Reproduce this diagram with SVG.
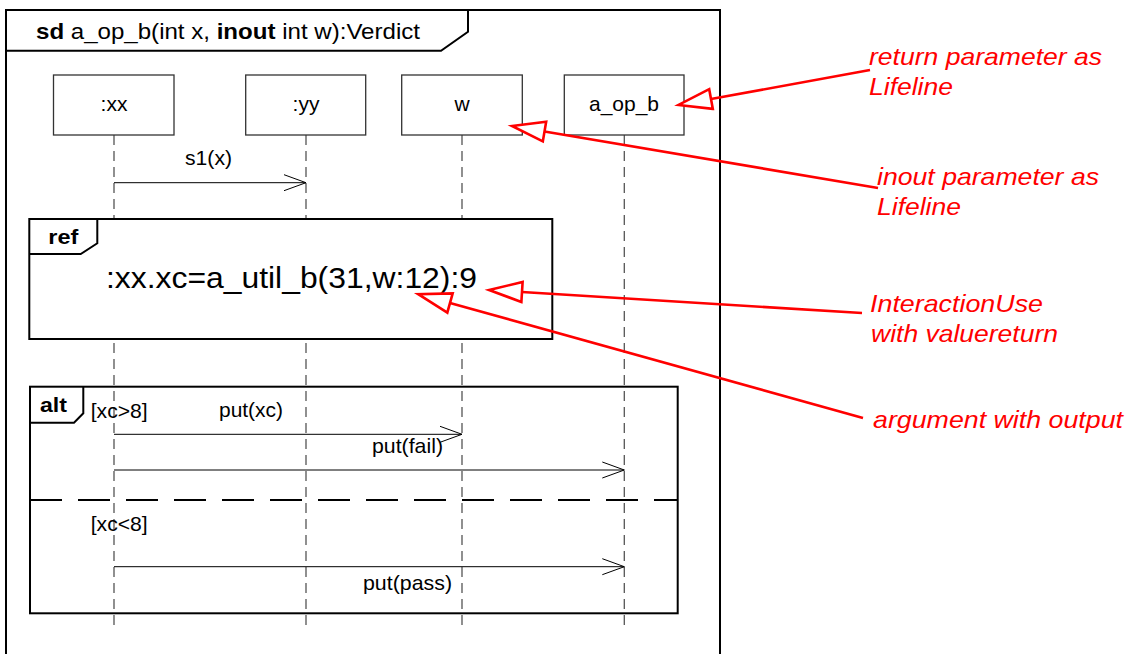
<svg xmlns="http://www.w3.org/2000/svg" width="1130" height="654" viewBox="0 0 1130 654">
<style>
text{font-family:"Liberation Sans",Arial,sans-serif;fill:#000}
.lbl{font-size:21px}
.b{font-weight:bold}
.frame{fill:none;stroke:#000;stroke-width:2}
.box{fill:#fff;stroke:#333;stroke-width:1.3}
.life{stroke:#555;stroke-width:1.3;stroke-dasharray:10 6}
.msg{stroke:#000;stroke-width:1;fill:none;marker-end:url(#open)}
.note{font-size:24px;font-style:italic;fill:#ff0000}
.red{stroke:#ff0000;stroke-width:2.6;fill:none;marker-end:url(#tri)}
</style>
<defs>
<marker id="open" markerUnits="userSpaceOnUse" markerWidth="26" markerHeight="20" refX="23" refY="9" orient="auto" overflow="visible">
<path d="M1,1 L23,9 L1,17" fill="none" stroke="#000" stroke-width="1"/>
</marker>
<marker id="tri" markerUnits="userSpaceOnUse" markerWidth="42" markerHeight="28" refX="3" refY="13" orient="auto" overflow="visible">
<path d="M3,3 L36,13 L3,23 Z" fill="#fff" stroke="#ff0000" stroke-width="2.6"/>
</marker>
</defs>
<rect width="1130" height="654" fill="#fff"/>

<g id="frame">
<rect class="frame" x="6" y="10" width="714" height="660"/>
<path class="frame" d="M6,50.7 L441,50.7 L468,31.7 L468,10"/>
<text x="36" y="39" font-size="22" textLength="384" lengthAdjust="spacingAndGlyphs"><tspan class="b">sd</tspan> a_op_b(int x, <tspan class="b">inout</tspan> int w):Verdict</text>
</g>

<g id="lifeline-xx">
<line class="life" x1="114" y1="135" x2="114" y2="626"/>
<rect class="box" x="53.5" y="75" width="120.5" height="60"/>
<text class="lbl" x="114" y="111" text-anchor="middle">:xx</text>
</g>
<g id="lifeline-yy">
<line class="life" x1="306" y1="135" x2="306" y2="626"/>
<rect class="box" x="245.7" y="75" width="120" height="60"/>
<text class="lbl" x="306" y="111" text-anchor="middle">:yy</text>
</g>
<g id="lifeline-w">
<line class="life" x1="462" y1="135" x2="462" y2="626"/>
<rect class="box" x="401.7" y="75" width="120.6" height="60"/>
<text class="lbl" x="462" y="111" text-anchor="middle">w</text>
</g>
<g id="lifeline-a_op_b">
<line class="life" x1="624.3" y1="135" x2="624.3" y2="626"/>
<rect class="box" x="564.3" y="75" width="119.7" height="60"/>
<text class="lbl" x="624" y="111" text-anchor="middle">a_op_b</text>
</g>

<g id="ref">
<rect x="29.3" y="219" width="523" height="120" fill="#fff" stroke="#000" stroke-width="2"/>
<path class="frame" d="M29.3,254 L80.7,254 L97.3,243.3 L97.3,219"/>
<text class="lbl b" x="48.3" y="244" textLength="30" lengthAdjust="spacingAndGlyphs">ref</text>
<text x="106" y="288" font-size="30" textLength="371" lengthAdjust="spacingAndGlyphs">:xx.xc=a_util_b(31,w:12):9</text>
</g>

<g id="alt">
<rect class="frame" x="30" y="386.7" width="647.7" height="226.6"/>
<path class="frame" d="M30,422.7 L74,422.7 L83.3,413.3 L83.3,386.7"/>
<text class="lbl b" x="40" y="412" textLength="27" lengthAdjust="spacingAndGlyphs">alt</text>
<line x1="30" y1="500" x2="677.7" y2="500" stroke="#000" stroke-width="2" stroke-dasharray="32 16"/>
<text class="lbl" x="90.7" y="418" textLength="57" lengthAdjust="spacingAndGlyphs">[xc&gt;8]</text>
<text class="lbl" x="90.7" y="531" textLength="57" lengthAdjust="spacingAndGlyphs">[xc&lt;8]</text>
</g>

<g id="connectors">
<line class="msg" x1="114" y1="182.7" x2="306" y2="182.7"/>
<text class="lbl" x="185" y="165" textLength="47" lengthAdjust="spacingAndGlyphs">s1(x)</text>
<line class="msg" x1="114" y1="434.3" x2="462" y2="434.3"/>
<text class="lbl" x="219" y="417" textLength="64" lengthAdjust="spacingAndGlyphs">put(xc)</text>
<line class="msg" x1="114" y1="470" x2="624.3" y2="470"/>
<text class="lbl" x="372" y="453" textLength="71" lengthAdjust="spacingAndGlyphs">put(fail)</text>
<line class="msg" x1="114" y1="566.7" x2="624.3" y2="566.7"/>
<text class="lbl" x="363" y="590" textLength="89" lengthAdjust="spacingAndGlyphs">put(pass)</text>

<line class="red" x1="870" y1="70" x2="711" y2="99"/>
<line class="red" x1="878" y1="188" x2="544.5" y2="131.5"/>
<line class="red" x1="862" y1="313" x2="522" y2="292"/>
<line class="red" x1="863" y1="418" x2="450" y2="303"/>
</g>

<g id="notes">
<text class="note" x="869" y="65" textLength="233" lengthAdjust="spacingAndGlyphs">return parameter as</text>
<text class="note" x="869" y="95" textLength="84" lengthAdjust="spacingAndGlyphs">Lifeline</text>
<text class="note" x="877" y="185" textLength="222" lengthAdjust="spacingAndGlyphs">inout parameter as</text>
<text class="note" x="877" y="215" textLength="84" lengthAdjust="spacingAndGlyphs">Lifeline</text>
<text class="note" x="870" y="312" textLength="173" lengthAdjust="spacingAndGlyphs">InteractionUse</text>
<text class="note" x="871" y="342" textLength="187" lengthAdjust="spacingAndGlyphs">with valuereturn</text>
<text class="note" x="873" y="428" textLength="250" lengthAdjust="spacingAndGlyphs">argument with output</text>
</g>
</svg>
